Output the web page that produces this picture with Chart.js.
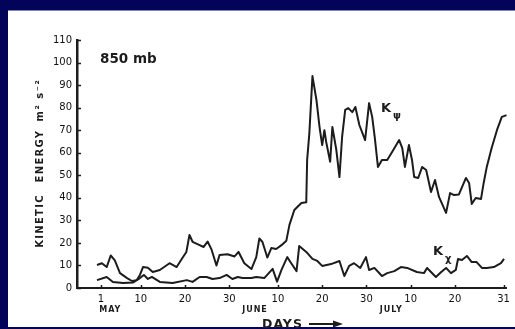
<!DOCTYPE html>
<html>
<head>
<meta charset="utf-8">
<script src="https://cdn.jsdelivr.net/npm/chart.js@4/dist/chart.umd.min.js"></script>
<style>
  html, body { margin: 0; padding: 0; background: #03035a; }
  #wrap { width: 515px; height: 329px; }
</style>
</head>
<body>
<div id="wrap"><canvas id="c" width="515" height="329"></canvas></div>
<script>
// Kinetic energy at 850 mb, May 1 (day 1) to July 31 (day 92)
const psiDays = [0.1,1.2,2.3,3.2,4.1,5.3,6.9,8.0,9.1,9.8,10.5,11.6,12.7,14.3,16.5,18.1,19.4,20.3,21.0,21.7,23.3,24.2,25.1,26.0,27.1,27.8,29.6,31.2,32.1,33.4,35.0,36.1,36.8,37.5,38.6,39.5,40.6,41.8,42.9,43.6,44.7,46.3,47.4,47.6,48.1,48.8,49.7,50.4,51.0,51.5,51.9,52.8,53.3,54.2,54.9,55.5,56.2,56.9,57.8,58.5,59.4,60.7,61.6,62.3,62.9,63.6,64.5,65.7,66.8,68.4,69.1,69.7,70.6,71.3,71.8,72.7,73.6,74.5,75.6,76.5,77.4,79.0,79.9,80.8,81.9,83.5,84.2,84.8,85.7,86.9,87.5,88.2,89.3,90.5,91.6,92.7];
const psiValues = [10.2,11,9.3,14.4,12.4,6.6,4.4,3.1,3.5,5.8,9.3,9.0,7.1,8.0,11.0,9.3,13.3,16,23.5,20.5,19,18.2,20.6,17,10,14.6,15,14,16,11,8.4,13.7,22,20.4,13.5,17.7,17.3,19,21,28,34.6,37.7,38,56.8,68.7,94,83.4,71.4,63.4,70,64.8,56,71.4,61.2,49.2,67,79,79.8,78,80.3,72.3,65.6,82,75.9,66.5,53.7,56.8,56.8,60.3,65.6,62,53.7,63.4,56.8,49.2,48.8,53.7,52.3,42.6,47.9,40.4,33.3,42.1,41.2,41.5,48.8,46.6,37.3,39.9,39.5,46.6,53.7,62.1,70,75.9,76.7];

const chiDays = [0.1,2.3,3.7,6.0,8.2,9.8,10.7,11.6,12.5,14.3,17.2,20.4,21.7,23.3,24.9,26.2,27.8,29.4,30.7,31.9,33.0,35.0,36.1,37.9,39.8,40.8,41.8,43.1,44.0,45.2,45.8,47.4,48.8,49.9,51.0,53.0,54.9,56.0,57.1,58.2,59.6,60.9,61.6,62.8,64.5,65.7,67.3,68.8,70.2,72.4,74.0,74.7,76.7,77.9,79.0,80.1,81.2,81.7,82.6,83.7,84.8,85.9,87.1,88.2,89.8,91.4,92.1];
const chiValues = [3.5,4.9,2.7,2.2,2.4,4.4,5.8,4.0,4.9,2.7,2.2,3.5,2.7,4.9,4.9,4.0,4.4,5.8,4.0,4.9,4.4,4.4,4.9,4.4,8.5,2.8,8,13.7,11,7.5,18.6,16,12.9,12,9.8,10.6,12,5.3,9.8,11,8.9,13.7,8,8.9,5.3,6.6,7.5,9.3,8.9,7.1,6.6,8.9,4.9,7.1,8.9,6.6,8,12.9,12.4,14.2,11.5,11.5,8.9,8.9,9.3,11,12.9];

const tickDays = [1,10,20,30,41,51,61,71,81,92];
const tickLabels = ['1','10','20','30','10','20','30','10','20','31'];
const monthNames = ['MAY','JUNE','JULY'];

const INK = '#1c1c1c';
const FONT = '"DejaVu Sans", sans-serif';

const framePlugin = {
  id: 'frame',
  beforeDraw(chart) {
    const c = chart.ctx;
    c.save();
    c.fillStyle = '#03035a';
    c.fillRect(0, 0, chart.width, chart.height);
    c.fillStyle = '#7f86b8';
    c.fillRect(8, 10, chart.width - 8, 1);
    c.fillStyle = '#ffffff';
    c.fillRect(8, 11, chart.width - 8, 316);
    c.restore();
  }
};

const labelPlugin = {
  id: 'labels',
  afterDraw(chart) {
    const c = chart.ctx;
    const xs = chart.scales.x, ys = chart.scales.y;
    c.save();
    c.strokeStyle = INK;
    c.fillStyle = INK;
    c.lineWidth = 1.5;

    // short tick marks pointing into the plot
    c.beginPath();
    ys.ticks.forEach(t => {
      const y = Math.round(ys.getPixelForValue(t.value)) + 0.5;
      c.moveTo(xs.left, y); c.lineTo(xs.left + 4, y);
    });
    xs.ticks.forEach(t => {
      const x = Math.round(xs.getPixelForValue(t.value)) + 0.5;
      c.moveTo(x, ys.bottom); c.lineTo(x, ys.bottom - 3);
    });
    c.stroke();

    // pressure level
    c.font = 'bold 13.5px ' + FONT;
    c.textAlign = 'left';
    c.textBaseline = 'alphabetic';
    c.fillText('850 mb', 100, 63);

    // series names
    c.font = 'bold 13px ' + FONT;
    c.fillText('K', 381, 112);
    c.fillText('K', 433, 255);
    c.font = 'bold 10px ' + FONT;
    c.fillText('ψ', 393, 119);
    c.fillText('χ', 445, 262);

    // month names under the day ticks
    c.font = 'bold 8px ' + FONT;
    c.letterSpacing = '1px';
    c.textAlign = 'center';
    const monthAt = [3.0, 35.7, 66.5];
    monthNames.forEach((m, i) => c.fillText(m, xs.getPixelForValue(monthAt[i]) + 0.5, 312));

    // axis caption with arrow
    c.font = 'bold 12.5px ' + FONT;
    c.letterSpacing = '1px';
    c.textAlign = 'left';
    c.fillText('DAYS', 262, 328);
    c.letterSpacing = '0px';
    c.lineWidth = 2;
    c.beginPath();
    c.moveTo(309, 324); c.lineTo(336, 324);
    c.stroke();
    c.beginPath();
    c.moveTo(343, 324); c.lineTo(333, 320.5); c.lineTo(333, 327.5); c.closePath();
    c.fill();

    // vertical axis caption
    c.translate(40, 0);
    c.rotate(-Math.PI / 2);
    c.textAlign = 'center';
    c.textBaseline = 'middle';
    c.font = 'bold 10px ' + FONT;
    c.letterSpacing = '1.3px';
    c.fillText('KINETIC', -221, 0);
    c.fillText('ENERGY', -156, 0);
    c.letterSpacing = '1.5px';
    c.fillText('m² s⁻²', -100, 0);
    c.restore();
  }
};

const toPoints = (days, vals) => days.map((d, i) => ({ x: d, y: vals[i] }));

const lineStyle = {
  borderColor: INK,
  borderWidth: 2,
  pointRadius: 0,
  tension: 0,
  fill: false,
  borderJoinStyle: 'round'
};

new Chart(document.getElementById('c'), {
  type: 'line',
  data: {
    datasets: [
      Object.assign({ label: 'Kψ', data: toPoints(psiDays, psiValues) }, lineStyle),
      Object.assign({ label: 'Kχ', data: toPoints(chiDays, chiValues) }, lineStyle)
    ]
  },
  options: {
    responsive: false,
    animation: false,
    devicePixelRatio: 1,
    layout: { padding: { left: 0, top: 40, right: 7, bottom: 11 } },
    plugins: { legend: { display: false }, tooltip: { enabled: false } },
    scales: {
      x: {
        type: 'linear',
        min: -4.42,
        max: 92.72,
        afterBuildTicks: s => { s.ticks = tickDays.map(v => ({ value: v })); },
        afterFit: s => { s.height = 30; },
        grid: { display: true, drawOnChartArea: false, drawTicks: false },
        border: { display: true, color: INK, width: 2 },
        ticks: {
          autoSkip: false,
          maxRotation: 0,
          padding: 5,
          color: '#111111',
          font: { family: FONT, size: 10 },
          callback: (v, i) => tickLabels[i]
        }
      },
      y: {
        min: 0,
        max: 110,
        afterFit: s => { s.width = 77; },
        grid: { display: true, drawOnChartArea: false, drawTicks: false },
        border: { display: true, color: INK, width: 2.5 },
        ticks: {
          stepSize: 10,
          padding: 5,
          color: '#111111',
          font: { family: FONT, size: 10 }
        }
      }
    }
  },
  plugins: [framePlugin, labelPlugin]
});
</script>
</body>
</html>
